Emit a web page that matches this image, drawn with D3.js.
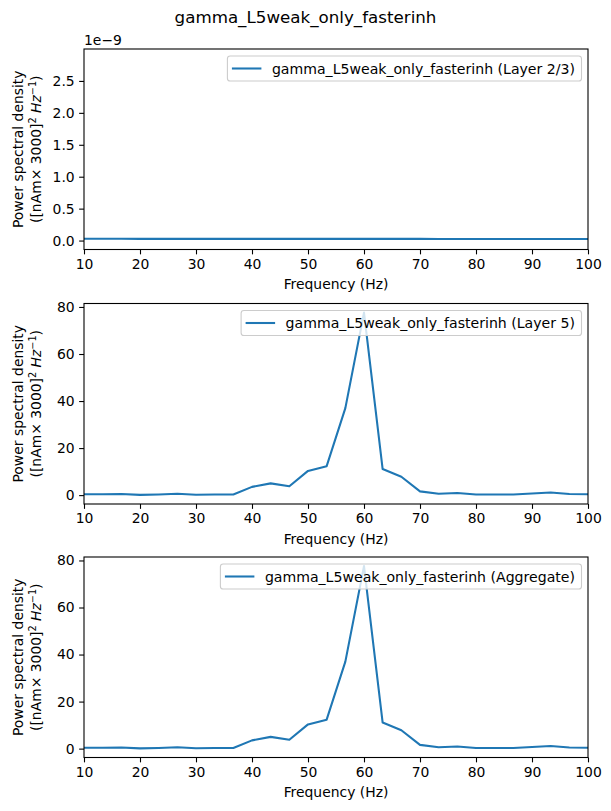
<!DOCTYPE html>
<html>
<head>
<meta charset="utf-8">
<script src="https://cdn.jsdelivr.net/npm/d3@7"></script>
<style>
  body { margin: 0; background: #fff; }
  svg text { font-family: "DejaVu Sans", sans-serif; fill: #000; }
</style>
</head>
<body>
<div id="chart"></div>
<script>
/* DATA */
const title = "gamma_L5weak_only_fasterinh";
const freqs = [10, 13.33, 16.67, 20, 23.33, 26.67, 30, 33.33, 36.67, 40, 43.33, 46.67, 50, 53.33,
  56.67, 60, 63.33, 66.67, 70, 73.33, 76.67, 80, 83.33, 86.67, 90, 93.33, 96.67, 100];
const layer23 = [2.8e-11, 2.8e-11, 2.8e-11, 2.7e-11, 2.7e-11, 2.7e-11, 2.7e-11, 2.7e-11, 2.7e-11, 2.7e-11,
  2.7e-11, 2.6e-11, 2.6e-11, 2.6e-11, 2.6e-11, 2.6e-11, 2.6e-11, 2.6e-11, 2.6e-11, 2.5e-11, 2.5e-11,
  2.5e-11, 2.5e-11, 2.5e-11, 2.5e-11, 2.4e-11, 2.4e-11, 2.4e-11];
const layer5 = [0.4, 0.35, 0.45, 0.1, 0.3, 0.6, 0.15, 0.3, 0.25, 3.5, 5.0, 3.8, 10.3, 12.3,
  37.0, 77.6, 11.1, 7.8, 1.6, 0.6, 0.9, 0.25, 0.25, 0.25, 0.7, 1.1, 0.45, 0.35];
const aggregate = [0.4, 0.35, 0.45, 0.1, 0.3, 0.6, 0.15, 0.3, 0.25, 3.5, 5.0, 3.8, 10.3, 12.3,
  37.0, 77.6, 11.1, 7.8, 1.6, 0.6, 0.9, 0.25, 0.25, 0.25, 0.7, 1.1, 0.45, 0.35];
const xTicks = [10, 20, 30, 40, 50, 60, 70, 80, 90, 100];
const topDomain = [-0.14e-9, 3.0e-9];
const topTicks = [0, 0.5e-9, 1.0e-9, 1.5e-9, 2.0e-9, 2.5e-9];
const bigTicks = [0, 20, 40, 60, 80];

const panels = [
  { label: "Layer 2/3", values: layer23, domain: topDomain, ticks: topTicks, offset: "1e\u22129", scale: 1e9 },
  { label: "Layer 5", values: layer5, domain: null, ticks: bigTicks, offset: null, scale: 1 },
  { label: "Aggregate", values: aggregate, domain: null, ticks: bigTicks, offset: null, scale: 1 }
];

/* LAYOUT */
const width = 611, height = 811;
const left = 84, right = 588;
const tops = [49, 303.5, 557];
const plotH = 200.5;
const fs = 13.9;
const blue = "#1f77b4";

const svg = d3.select("#chart").append("svg")
  .attr("width", width)
  .attr("height", height);

svg.append("text")
  .attr("x", width / 2)
  .attr("y", 23)
  .attr("text-anchor", "middle")
  .style("font-size", "16.7px")
  .text(title);

const xScale = d3.scaleLinear().domain([10, 100]).range([left, right]);

panels.forEach((p, i) => {
  const top = tops[i], bottom = top + plotH;

  // matplotlib style 5% margins when no fixed domain
  let dom = p.domain;
  if (!dom) {
    const [lo, hi] = d3.extent(p.values);
    const pad = (hi - lo) * 0.05;
    dom = [lo - pad, hi + pad];
  }
  const yScale = d3.scaleLinear().domain(dom).range([bottom, top]);

  const g = svg.append("g");

  const clipId = "clip" + i;
  g.append("clipPath").attr("id", clipId)
    .append("rect")
    .attr("x", left).attr("y", top)
    .attr("width", right - left).attr("height", plotH);

  const line = d3.line()
    .x((d, j) => xScale(freqs[j]))
    .y(d => yScale(d));

  g.append("path")
    .datum(p.values)
    .attr("clip-path", `url(#${clipId})`)
    .attr("fill", "none")
    .attr("stroke", blue)
    .attr("stroke-width", 2.08)
    .attr("stroke-linejoin", "round")
    .attr("d", line);

  // axes
  const xAxis = d3.axisBottom(xScale).tickValues(xTicks).tickSize(4.86).tickPadding(4.5)
    .tickFormat(d3.format("d"));
  const yAxis = d3.axisLeft(yScale).tickValues(p.ticks).tickSize(4.86).tickPadding(4.5)
    .tickFormat(d => p.scale === 1 ? d3.format("d")(d) : d3.format(".1f")(d * p.scale));

  const xg = g.append("g").attr("transform", `translate(0,${bottom})`).call(xAxis);
  const yg = g.append("g").attr("transform", `translate(${left},0)`).call(yAxis);
  [xg, yg].forEach(ax => {
    ax.select(".domain").remove();
    ax.selectAll("line").attr("stroke", "#000").attr("stroke-width", 1.1);
    ax.selectAll("text").style("font-size", fs + "px").attr("fill", "#000");
  });

  g.append("rect")
    .attr("x", left).attr("y", top)
    .attr("width", right - left).attr("height", plotH)
    .attr("fill", "none")
    .attr("stroke", "#000")
    .attr("stroke-width", 1.1);

  if (p.offset) {
    g.append("text")
      .attr("x", left)
      .attr("y", top - 4)
      .style("font-size", fs + "px")
      .text(p.offset);
  }

  // x label
  g.append("text")
    .attr("x", (left + right) / 2)
    .attr("y", bottom + 39.5)
    .attr("text-anchor", "middle")
    .style("font-size", fs + "px")
    .text("Frequency (Hz)");

  // y label, two lines
  const cy = (top + bottom) / 2;
  const yl = g.append("g").attr("transform", `translate(0,${cy}) rotate(-90)`);
  yl.append("text")
    .attr("x", 0).attr("y", 23)
    .attr("text-anchor", "middle")
    .style("font-size", fs + "px")
    .text("Power spectral density");
  const l2 = yl.append("text")
    .attr("x", 0).attr("y", 40.5)
    .attr("text-anchor", "middle")
    .style("font-size", fs + "px");
  l2.append("tspan").text("([nAm\u00d7 3000]");
  l2.append("tspan").attr("dy", -5).style("font-size", "9.7px").text("2");
  l2.append("tspan").attr("dy", 5).text(" ");
  l2.append("tspan").style("font-style", "italic").text("Hz");
  l2.append("tspan").attr("dy", -5).style("font-size", "9.7px").text("\u22121");
  l2.append("tspan").attr("dy", 5).text(")");

  // legend
  const lg = g.append("g");
  const box = lg.append("rect")
    .attr("fill", "#fff")
    .attr("fill-opacity", 0.8)
    .attr("stroke", "#cccccc")
    .attr("stroke-width", 1.1)
    .attr("rx", 2.8);
  const txt = lg.append("text")
    .style("font-size", "14.1px")
    .text(`${title} (${p.label})`);
  const tw = txt.node().getComputedTextLength();
  const boxW = tw + 51;
  const boxX = right - 6.5 - boxW;
  const boxY = top + 7;
  const boxH = 25;
  box.attr("x", boxX).attr("y", boxY).attr("width", boxW).attr("height", boxH);
  txt.attr("x", boxX + 44.5).attr("y", boxY + 17.5);
  lg.append("line")
    .attr("x1", boxX + 4.5).attr("x2", boxX + 34)
    .attr("y1", boxY + boxH / 2).attr("y2", boxY + boxH / 2)
    .attr("stroke", blue)
    .attr("stroke-width", 2.08);
});
</script>
</body>
</html>
